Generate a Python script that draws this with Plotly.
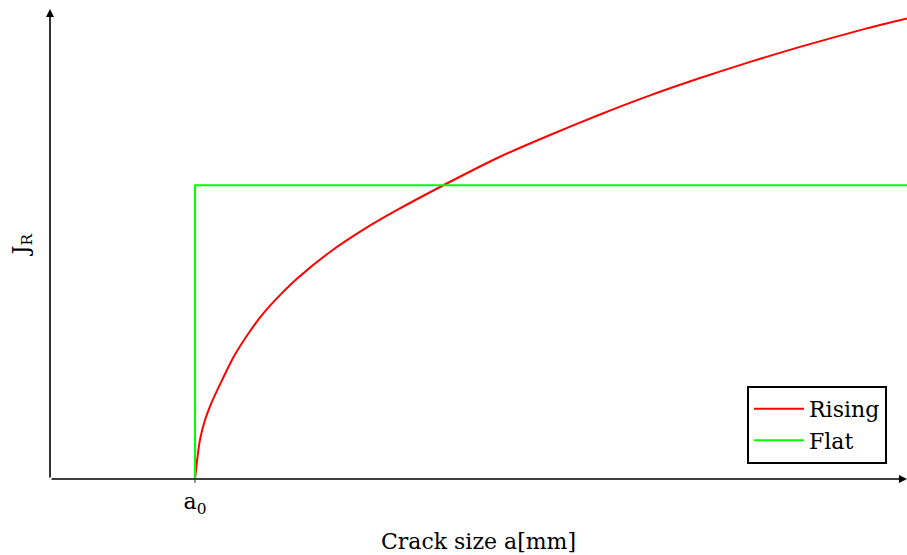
import plotly.graph_objects as go

# Data (crack size in units of a0, J_R normalised to the flat level)
rising_a = [1.0, 1.016, 1.034, 1.069, 1.115, 1.184, 1.264, 1.379, 1.471, 1.586,
            1.701, 1.931, 2.161, 2.391, 2.713, 3.103, 3.448, 3.793,
            4.138, 4.483, 4.828, 5.172, 5.632, 5.910]
rising_j = [0.0, 0.070, 0.133, 0.201, 0.261, 0.334, 0.414, 0.503, 0.564, 0.626,
            0.681, 0.773, 0.849, 0.915, 1.0, 1.097, 1.171, 1.241,
            1.306, 1.365, 1.420, 1.471, 1.534, 1.568]
flat_a = [1.0, 1.0, 5.91]
flat_j = [0.0, 1.0, 1.0]
tick_vals = [1.0]
tick_text = ["a<sub>0</sub>"]
x_max = 5.91
y_max = 1.6

FONT = "DejaVu Serif"
FS = 22

fig = go.Figure()
fig.add_trace(go.Scatter(x=rising_a, y=rising_j, mode="lines", name="Rising",
                         line=dict(color="#ff0000", width=2, shape="spline", smoothing=0.7),
                         cliponaxis=False))
fig.add_trace(go.Scatter(x=flat_a, y=flat_j, mode="lines", name="Flat",
                         line=dict(color="#00ff00", width=2),
                         cliponaxis=False))

# axis arrows
fig.add_annotation(x=x_max, y=0, ax=0, ay=0, xref="x", yref="y", axref="x", ayref="y",
                   showarrow=True, arrowhead=2, arrowsize=1, arrowwidth=1.6,
                   arrowcolor="black", text="")
fig.add_annotation(x=0, y=y_max, ax=0, ay=0, xref="x", yref="y", axref="x", ayref="y",
                   showarrow=True, arrowhead=2, arrowsize=1, arrowwidth=1.6,
                   arrowcolor="black", text="")

fig.update_layout(
    width=907, height=555,
    margin=dict(l=50, r=0, t=9, b=76),
    paper_bgcolor="white", plot_bgcolor="white",
    font=dict(family=FONT, size=FS, color="black"),
    showlegend=True,
    legend=dict(x=0.9767, y=0.032, xanchor="right", yanchor="bottom",
                bordercolor="black", borderwidth=2, bgcolor="white",
                font=dict(family=FONT, size=FS),
                itemwidth=50, tracegroupgap=0),
    xaxis=dict(range=[0, x_max], showgrid=False, zeroline=False, showline=False,
               tickvals=tick_vals, ticktext=tick_text, ticks="outside",
               ticklen=3, tickcolor="#999999", tickwidth=1.5,
               tickfont=dict(family=FONT, size=FS),
               title=dict(text="Crack size a[mm]", font=dict(family=FONT, size=FS), standoff=16)),
    yaxis=dict(range=[0, y_max], showgrid=False, zeroline=False, showline=False,
               showticklabels=False, ticks="",
               title=dict(text="J<sub>R</sub>", font=dict(family=FONT, size=FS), standoff=14)),
)

fig.write_html("out.html")
